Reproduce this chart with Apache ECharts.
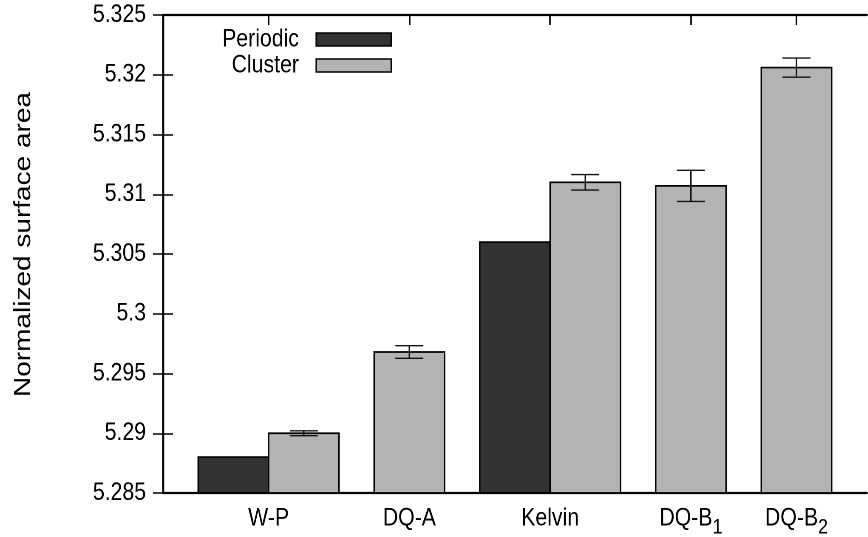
<!DOCTYPE html>
<html><head><meta charset="utf-8">
<script src="https://cdn.jsdelivr.net/npm/echarts@6/dist/echarts.min.js"></script>
<style>
html,body{margin:0;padding:0;background:#fff;overflow:hidden}
#wrap{position:relative;width:868px;height:537px;overflow:hidden}
#c{position:absolute;left:0;top:0;width:1021px;height:537px;transform:scaleX(0.85);transform-origin:0 0}
</style>
</head><body><div id="wrap"><div id="c"></div></div>
<script>
// ---- data ----
const categories = ['W-P', 'DQ-A', 'Kelvin', 'DQ-B1', 'DQ-B2'];
const categoryLabels = ['W-P', 'DQ-A', 'Kelvin', '{m|DQ-B}{s|1}', '{m|DQ-B}{s|2}'];
const periodic = [5.2880, null, 5.3060, null, null];
const cluster = [5.2900, 5.2968, 5.3110, 5.3107, 5.3206];
const clusterErr = [0.0002, 0.00053, 0.00065, 0.0013, 0.0008];
const yTicks = [5.285, 5.29, 5.295, 5.3, 5.305, 5.31, 5.315, 5.32, 5.325];
const seriesNames = ['Periodic', 'Cluster'];

// ---- styling helpers: the page is drawn 1/K wider and squeezed horizontally by K ----
const K = 0.85;
const hx = v => v / K;
const FONT = "'Liberation Sans', Arial, Helvetica, sans-serif";
const FS = 25;

// ---- layout derived from data (bars of a group side by side, half-bar gap between groups) ----
const yMin = yTicks[0], yMax = yTicks[yTicks.length - 1];
const periodicBars = [], clusterBars = [], errBars = [], labelPos = [];
let pos = 0.5;
categories.forEach((c, i) => {
  const start = pos;
  if (periodic[i] != null) { periodicBars.push([pos, pos + 1, periodic[i]]); pos += 1; }
  clusterBars.push([pos, pos + 1, cluster[i]]);
  errBars.push([pos + 0.5, cluster[i] - clusterErr[i], cluster[i] + clusterErr[i]]);
  pos += 1;
  labelPos.push((start + pos) / 2);
  pos += 0.5;
});
const xMax = pos;

function barRender(fill) {
  return function (params, api) {
    const p0 = api.coord([api.value(0), yMin]);
    const p1 = api.coord([api.value(1), api.value(2)]);
    return {
      type: 'rect',
      shape: { x: p0[0], y: p1[1], width: p1[0] - p0[0], height: p0[1] - p1[1] },
      style: { fill: fill, stroke: '#000', lineWidth: 1.7 }
    };
  };
}
function errRender(params, api) {
  const lo = api.coord([api.value(0), api.value(1)]);
  const hi = api.coord([api.value(0), api.value(2)]);
  const cap = hx(14);
  const st = { stroke: '#111', lineWidth: 1.4 };
  return {
    type: 'group',
    children: [
      { type: 'line', shape: { x1: lo[0], y1: lo[1], x2: hi[0], y2: hi[1] }, style: { stroke: '#111', lineWidth: 1.7 } },
      { type: 'line', shape: { x1: lo[0] - cap, y1: lo[1], x2: lo[0] + cap, y2: lo[1] }, style: st },
      { type: 'line', shape: { x1: hi[0] - cap, y1: hi[1], x2: hi[0] + cap, y2: hi[1] }, style: st }
    ]
  };
}

const axisLine = { show: true, lineStyle: { color: '#000', width: 2.2 } };
const chart = echarts.init(document.getElementById('c'), null, { renderer: 'canvas', devicePixelRatio: 2 });
chart.setOption({
  backgroundColor: '#fff',
  animation: false,
  textStyle: { fontFamily: FONT },
  grid: { left: hx(163), right: hx(1), top: 15, bottom: 44, containLabel: false, outerBoundsMode: 'none' },
  legend: {
    orient: 'vertical', align: 'right', right: hx(476), top: 27, padding: 0,
    icon: 'rect', itemWidth: hx(75), itemHeight: 13, itemGap: 1,
    textStyle: { fontFamily: FONT, fontSize: FS, color: '#000', padding: [0, hx(13), 0, 0] },
    data: [
      { name: seriesNames[0], itemStyle: { color: '#333333', borderColor: '#000', borderWidth: 1.6 } },
      { name: seriesNames[1], itemStyle: { color: '#b3b3b3', borderColor: '#000', borderWidth: 1.6 } }
    ]
  },
  xAxis: [
    {
      type: 'value', position: 'bottom', min: 0, max: xMax,
      axisLine: axisLine, axisTick: { show: false }, splitLine: { show: false },
      axisLabel: {
        customValues: labelPos, margin: 13, color: '#000', fontSize: FS, fontFamily: FONT,
        formatter: v => { const i = labelPos.findIndex(p => Math.abs(p - v) < 1e-6); return i >= 0 ? categoryLabels[i] : ''; },
        rich: {
          m: { fontSize: FS, fontFamily: FONT, color: '#000', verticalAlign: 'top', lineHeight: 26 },
          s: { fontSize: 21, fontFamily: FONT, color: '#000', verticalAlign: 'top', lineHeight: 21, padding: [11, 0, 0, 0] }
        }
      }
    },
    {
      type: 'value', position: 'top', min: 0, max: xMax,
      axisLine: axisLine, splitLine: { show: false },
      axisTick: { show: true, inside: true, length: 10, customValues: labelPos, lineStyle: { color: '#000', width: 1.8 } },
      axisLabel: { show: false }
    }
  ],
  yAxis: [
    {
      type: 'value', position: 'left', min: yMin, max: yMax, interval: 0.005,
      axisLine: axisLine, splitLine: { show: false },
      axisTick: { show: true, inside: true, length: hx(10), lineStyle: { color: '#000', width: 1.5 } },
      axisLabel: { margin: hx(17), color: '#000', fontSize: FS, fontFamily: FONT,
        formatter: v => { const t = yTicks.find(x => Math.abs(x - v) < 1e-7); return t != null ? String(t) : ''; } },
      name: 'Normalized surface area', nameLocation: 'middle', nameGap: 150,
      nameTextStyle: { fontSize: 28, fontFamily: FONT, color: '#000', padding: [0, 0, 0, 19] }
    },
    {
      type: 'value', position: 'right', min: yMin, max: yMax, interval: 0.005,
      axisLine: { show: true, lineStyle: { color: '#000', width: 2.2 } }, splitLine: { show: false },
      axisTick: { show: true, inside: true, length: hx(10), lineStyle: { color: '#000', width: 1.5 } },
      axisLabel: { show: false }
    }
  ],
  series: [
    { name: seriesNames[0], type: 'custom', renderItem: barRender('#333333'), data: periodicBars,
      encode: { x: [0, 1], y: 2 }, itemStyle: { color: '#333333' }, z: 3 },
    { name: seriesNames[1], type: 'custom', renderItem: barRender('#b3b3b3'), data: clusterBars,
      encode: { x: [0, 1], y: 2 }, itemStyle: { color: '#b3b3b3' }, z: 3 },
    { name: 'err', type: 'custom', renderItem: errRender, data: errBars,
      encode: { x: 0, y: [1, 2] }, z: 4 }
  ]
});
</script></body></html>
